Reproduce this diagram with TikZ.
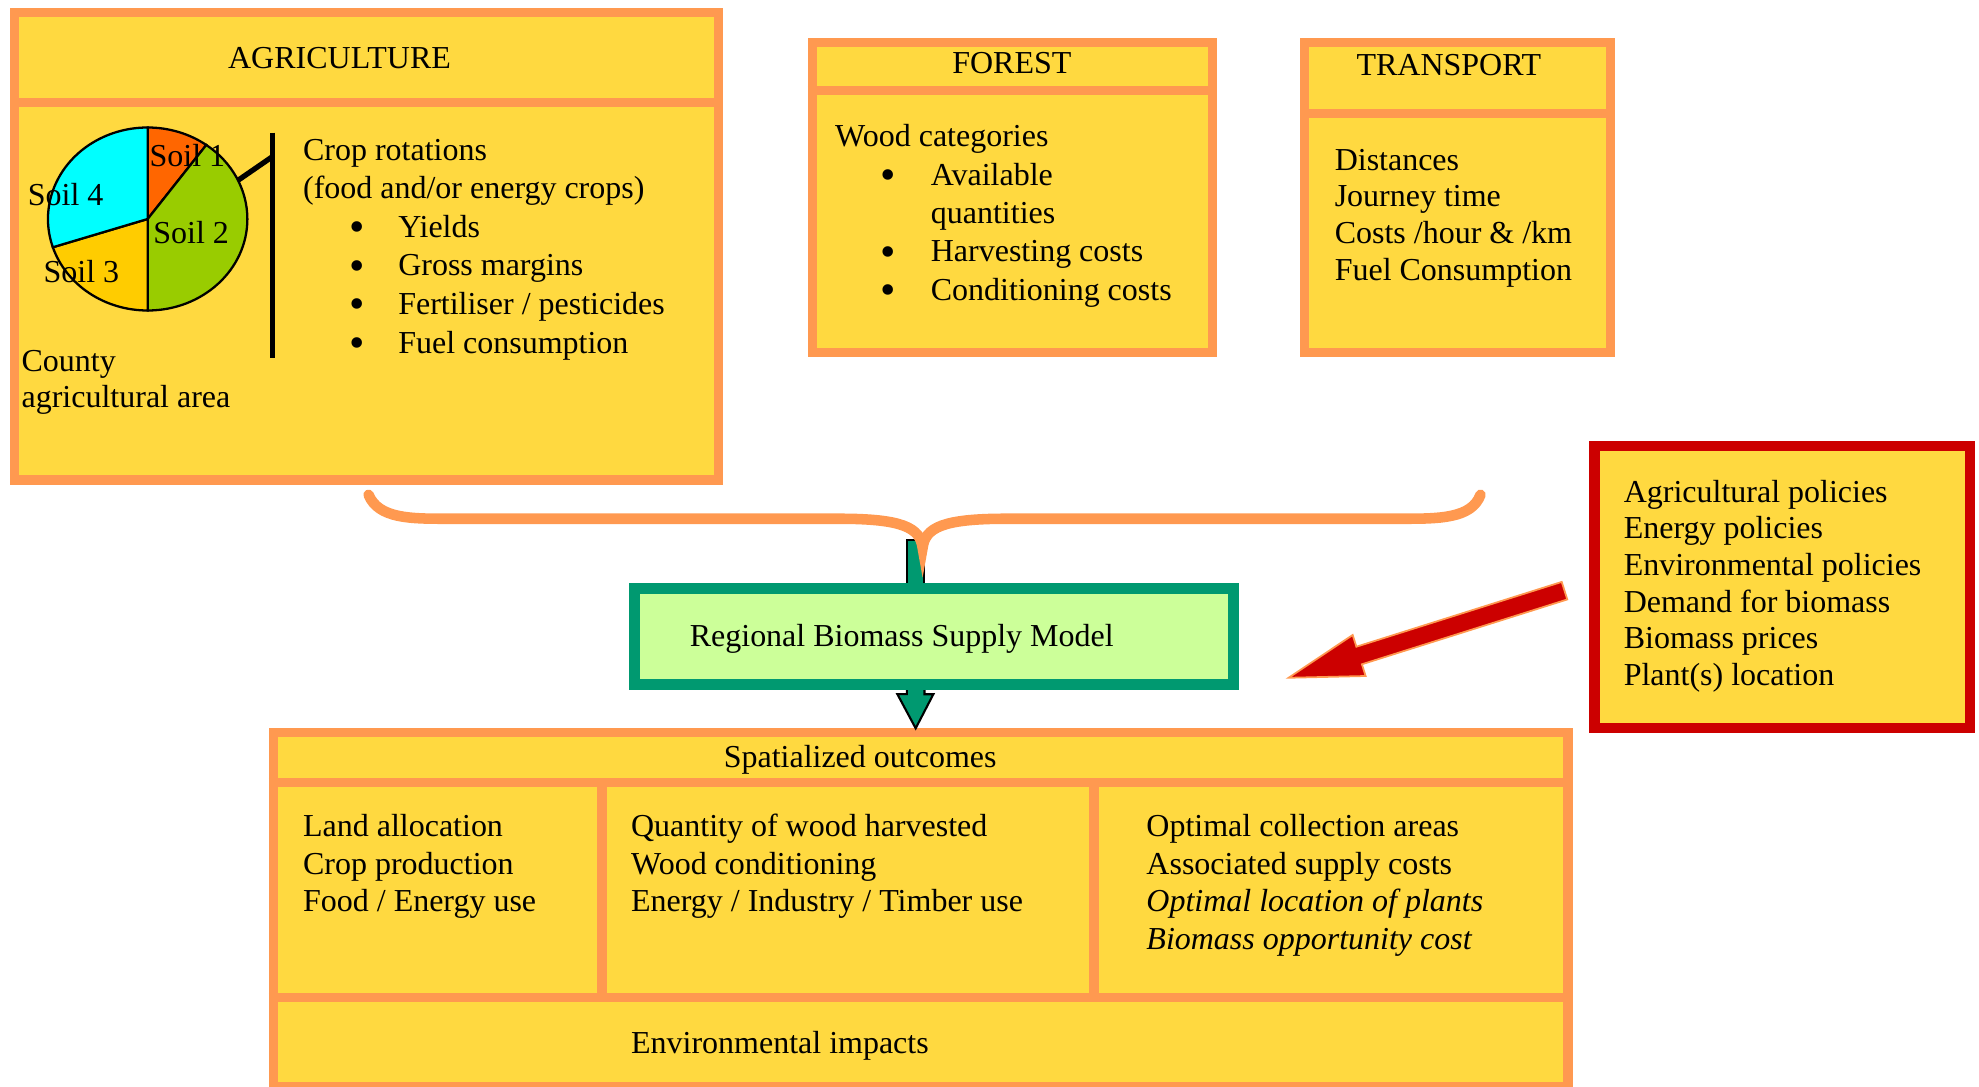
\documentclass[tikz,border=0pt]{standalone}
\usepackage{fontspec}
\setmainfont{Liberation Serif}
\usetikzlibrary{calc}
\usetikzlibrary{fit}
\definecolor{panelyellow}{HTML}{FFD940}
\definecolor{panelorange}{HTML}{FF9950}
\definecolor{modelgreen}{HTML}{009970}
\definecolor{modelfill}{HTML}{CCFF99}
\definecolor{policyred}{HTML}{CC0000}
\definecolor{soilone}{HTML}{FF6600}
\definecolor{soiltwo}{HTML}{99CC00}
\definecolor{soilthree}{HTML}{FFCC00}
\definecolor{soilfour}{HTML}{00FFFF}
\newcommand*\textsize{\fontsize{9.1}{10.6}\selectfont}
\newcommand*\bulletsize{\fontsize{12.5}{12.5}\selectfont}

\begin{document}
\begin{tikzpicture}
    [%
        x=0.1262mm,%
        y=-0.1262mm,%
        panel/.style={%
            draw=panelorange,%
            fill=panelyellow,%
            line width=2.6pt,%
            inner sep=0pt%
        },%
        panel rule/.style={%
            draw=panelorange,%
            line width=2.6pt%
        },%
        model box/.style={%
            draw=modelgreen,%
            fill=modelfill,%
            line width=3.2pt,%
            inner sep=0pt%
        },%
        policy box/.style={%
            draw=policyred,%
            fill=panelyellow,%
            line width=3pt,%
            inner sep=0pt%
        },%
        body text/.style={%
            font=\textsize,%
            inner sep=0pt,%
            yshift=-0.13mm,%
            anchor=base west%
        },%
        title text/.style={%
            body text,%
            anchor=base%
        },%
        bullet mark/.style={%
            font=\bulletsize,%
            inner sep=0pt,%
            yshift=-0.55mm,%
            anchor=base%
        },%
        pie slice/.style={%
            draw=black,%
            line width=0.65pt%
        },%
        crop bar/.style={%
            draw=black,%
            line width=1.5pt%
        },%
        brace line/.style={%
            draw=panelorange,%
            line width=3pt,%
            line cap=round%
        },%
        flow arrow/.style={%
            fill=modelgreen,%
            draw=black,%
            line width=0.6pt%
        },%
        policy arrow/.style={%
            fill=policyred,%
            draw=panelorange,%
            line width=0.5pt%
        }%
    ]%
    \useasboundingbox (0,0) rectangle (1568,861);
%
    % the three input panels, each with its header rule
    \node[panel, fit={(11.65,9.65) (569.35,380.35)}] (agri) {};
    \draw[panel rule] (agri.west |- 0,81) -- (agri.east |- 0,81);
    \node[panel, fit={(643.65,33.65) (960.35,279.35)}] (forest) {};
    \draw[panel rule] (forest.west |- 0,72) -- (forest.east |- 0,72);
    \node[panel, fit={(1033.65,33.65) (1275.85,279.35)}] (transport) {};
    \draw[panel rule] (transport.west |- 0,90) -- (transport.east |- 0,90);
%
    % agriculture
    \node[title text] (agri-title) at (269,53) {AGRICULTURE};
    \coordinate (pie) at (117,173.5);
    \begin{scope}[shift={(pie)}, x=0.1262mm, y=0.1262mm]
        % \soil slice colour, \from/\to angles of the slice
        \foreach \soil/\from/\to in {%
            one/54/90,%
            two/-90/54,%
            three/198/270,%
            four/90/198%
        }{%
            \filldraw[pie slice, fill=soil\soil] (0,0) -- (\from:79 and 72.5)
                arc[start angle=\from, end angle=\to, x radius=79, y radius=72.5] -- cycle;
        } % \foreach \soil
        \coordinate (pie-link) at (25:79 and 72.5);
    \end{scope}
    \foreach \name/\x/\y in {%
        1/118/131,%
        2/121/192,%
        3/34/223,%
        4/21.5/161.5%
    }{%
        \node[body text] (soil-\name) at (\x,\y) {Soil \name};
    } % \foreach \name
    \coordinate (bar-top) at (216,105);
    \coordinate (bar-bottom) at (216,284);
    \draw[crop bar] (bar-top) -- (bar-bottom);
    \draw[crop bar] (pie-link) -- ($(bar-top)+(0,19)$);
    \node[body text] (crop-rotations) at (239.6,126) {Crop rotations};
    \node[body text] (crop-kinds) at (239.6,156) {(food and/or energy crops)};
    \foreach \entry/\y [count=\i] in {%
        Yields/187,%
        {Gross margins}/217.5,%
        {Fertiliser / pesticides}/248,%
        {Fuel consumption}/279%
    }{%
        \node[bullet mark] (agri-bullet-\i) at (282.7,\y) {\textbullet};
        \node[body text] (agri-entry-\i) at (315,\y) {\entry};
    } % \foreach \entry
    \node[body text] (county) at (16.6,293.5) {County};
    \node[body text] (county-area) at (16.6,321.5) {agricultural area};
%
    % forest
    \node[title text] (forest-title) at (801.7,57) {FOREST};
    \node[body text] (wood-categories) at (661.2,115.4) {Wood categories};
    \foreach \y [count=\i] in {145.8,206.4,236.8} {
        \node[bullet mark] (forest-bullet-\i) at (703.5,\y) {\textbullet};
    } % \foreach \y
    \foreach \entry/\y [count=\i] in {%
        Available/145.8,%
        quantities/176,%
        {Harvesting costs}/206.4,%
        {Conditioning costs}/236.8%
    }{%
        \node[body text] (forest-entry-\i) at (737,\y) {\entry};
    } % \foreach \entry
%
    % transport
    \node[title text] (transport-title) at (1148,58.5) {TRANSPORT};
    \foreach \entry/\y [count=\i] in {%
        Distances/133.8,%
        {Journey time}/162.9,%
        {Costs /hour \& /km}/191.9,%
        {Fuel Consumption}/221%
    }{%
        \node[body text] (transport-entry-\i) at (1057,\y) {\entry};
    } % \foreach \entry
%
    % policies
    \node[policy box, fit={(1263.25,353.25) (1560.75,576.75)}] (policies) {};
    \foreach \entry [count=\i] in {%
        Agricultural policies,%
        Energy policies,%
        Environmental policies,%
        Demand for biomass,%
        Biomass prices,%
        Plant(s) location%
    }{%
        \node[body text] (policy-\i) at (1286,{397+29*(\i-1)}) {\entry};
    } % \foreach \entry
%
    % spatialized outcomes
    \node[panel, fit={(216.65,580.65) (1242.35,861)}] (outcomes) {};
    \draw[panel rule] (outcomes.west |- 0,620) -- (outcomes.east |- 0,620);
    \draw[panel rule] (outcomes.west |- 0,790) -- (outcomes.east |- 0,790);
    \draw[panel rule] (477,620) -- (477,790);
    \draw[panel rule] (866.8,620) -- (866.8,790);
    \node[title text] (outcomes-title) at (681.5,607) {Spatialized outcomes};
    % \x left edge of the column, \Lines its entries
    \foreach \col/\x/\Lines in {%
        land/239.6/{Land allocation,Crop production,{Food / Energy use}},%
        wood/499.5/{Quantity of wood harvested,Wood conditioning,{Energy / Industry / Timber use}},%
        supply/907.8/{Optimal collection areas,Associated supply costs,{\itshape Optimal location of plants},{\itshape Biomass opportunity cost}}%
    }{%
        \foreach \entry [count=\i] in \Lines {
            \node[body text] (\col-\i) at (\x,{662+29.7*(\i-1)}) {\entry};
        } % \foreach \entry
    } % \foreach \col
    \node[body text] (impacts) at (499.5,833.6) {Environmental impacts};
%
    % flows into and out of the model
    \coordinate (brace-tip) at (731,434);
    \draw[flow arrow] ($(brace-tip)+(-12.5,-6)$) rectangle ($(brace-tip |- 0,472)+(1,0)$);
    \draw[flow arrow] ($(brace-tip |- 0,539)+(-12.5,0)$) -- ++(0,11) -- ++(-7.5,0)
        -- ($(brace-tip |- outcomes.north)+(-5.5,0)$) -- ++(14,-27) -- ++(-7,0) -- ++(0,-11);
    \node[model box, fit={(502.5,466.5) (977.5,542.5)}] (model) {};
    \node[body text] (model-label) at (546,511) {Regional Biomass Supply Model};
    \draw[brace line] (292,392) .. controls (300,411) and (325,411) .. (355,411)
        -- (665,411) .. controls (715,411) and (729,418) .. (brace-tip)
        .. controls (733,418) and (747,411) .. (797,411)
        -- (1110,411) .. controls (1140,411) and (1166,411) .. (1173,392);
%
    % policies acting on the model
    \coordinate (policy-tail) at ($(policies.west)+(-19.5,3)$);
    \coordinate (policy-tip) at ($(model.east)+(39,32.5)$);
    \draw[policy arrow]
        let \p1 = ($(policy-tail)-(policy-tip)$),
            \n1 = {atan2(\y1,\x1)}
        in
        (policy-tip)
        -- ($(policy-tip)+(\n1:7.4mm)+(\n1+90:2.15mm)$)
        -- ($(policy-tip)+(\n1:7.4mm)+(\n1+90:0.92mm)$)
        -- ($(policy-tail)+(\n1+90:0.92mm)$)
        -- ($(policy-tail)+(\n1-90:0.92mm)$)
        -- ($(policy-tip)+(\n1:7.4mm)+(\n1-90:0.92mm)$)
        -- ($(policy-tip)+(\n1:7.4mm)+(\n1-90:2.15mm)$)
        -- cycle;
\end{tikzpicture}
\end{document}
